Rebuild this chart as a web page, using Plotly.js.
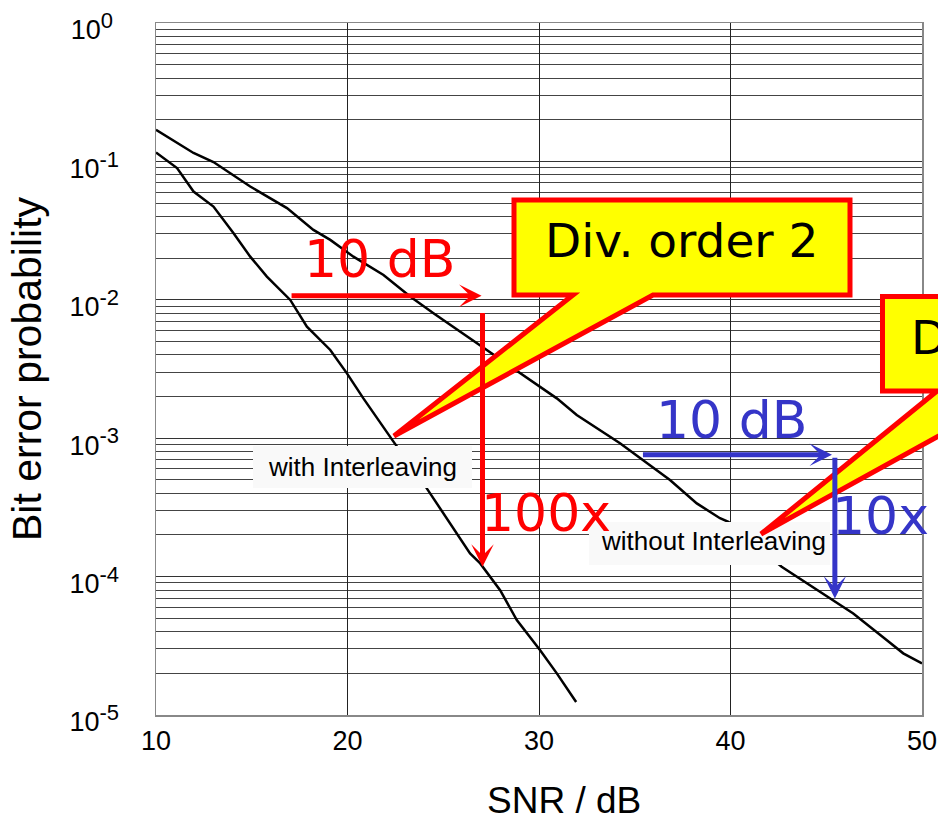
<!DOCTYPE html>
<html><head><meta charset="utf-8">
<script src="https://cdn.plot.ly/plotly-3.0.1.min.js"></script>
<style>html,body{margin:0;padding:0;background:#fff}</style>
</head><body><div id="chart" style="width:938px;height:817px"></div>
<script>
// ---- data ----
const snrWithout = [10, 11.96, 13.0, 14.92, 16.84, 18.22, 19.1, 20.31, 21.88, 23.27, 24.49, 26.4, 29.01, 30.93, 31.97, 34.23, 36.84, 38.24, 39.45, 39.89, 42.67, 44.84, 46.41, 48.15, 49.02, 50];
const berWithout = [0.169, 0.115, 0.0989, 0.0659, 0.046, 0.032, 0.0271, 0.0205, 0.0151, 0.01055, 0.008, 0.00527, 0.00294, 0.00194, 0.00147, 0.00092, 0.000499, 0.000338, 0.000264, 0.000249, 0.0001178, 7.56e-5, 5.42e-5, 3.48e-5, 2.79e-5, 2.36e-5];
const snrWith = [10, 11.1, 11.96, 13.0, 14.05, 14.92, 15.79, 17.01, 17.88, 19.1, 19.97, 20.83, 22.4, 24.14, 26.4, 26.93, 27.97, 28.84, 30.06, 30.93, 31.94];
const berWith = [0.116, 0.0895, 0.0606, 0.0472, 0.0303, 0.0205, 0.01472, 0.00998, 0.0064, 0.00434, 0.00294, 0.00194, 0.000944, 0.000434, 0.000147, 0.0001245, 7.98e-5, 4.85e-5, 2.94e-5, 2.0e-5, 1.24e-5];
const xTickVals = [10, 20, 30, 40, 50];
const yTickVals = [1e-5, 1e-4, 1e-3, 1e-2, 1e-1, 1];
const yExponents = ['-5', '-4', '-3', '-2', '-1', '0\u00a0'];
// gain markers: [snrFrom, snrTo, ber] and [snr, berFrom, berTo]
const redShift = [17.0, 27.0, 0.0107];
const redDrop = [27.05, 0.00822, 0.000118];
const blueShift = [35.35, 45.3, 0.000759];
const blueDrop = [45.45, 0.000741, 0.0000695];

const yTickText = yExponents.map(e => '10<sup><span style="font-size:22px">' + e + '</span></sup>');

const L = Math.log10;
// pixel -> paper helper for decorations (callouts, label boxes)
const PL = 156, PR = 922, PT = 23, PB = 715;
const px = x => (x - PL) / (PR - PL);
const py = y => (PB - y) / (PB - PT);
const pathOf = pts => pts.map((p, i) => (i ? 'L' : 'M') + px(p[0]).toFixed(5) + ',' + py(p[1]).toFixed(5)).join(' ') + ' Z';

const traces = [
  {x: snrWithout, y: berWithout, type: 'scatter', mode: 'lines', name: 'without Interleaving', line: {color: '#000', width: 2.5}},
  {x: snrWith, y: berWith, type: 'scatter', mode: 'lines', name: 'with Interleaving', line: {color: '#000', width: 2.5}}
];

const RED = '#ff0000', BLUE = '#3535c8', YEL = '#ffff00';
const bigFont = c => ({family: 'DejaVu Sans', size: 52, color: c});
const labFont = {family: 'Liberation Sans, Arial', size: 26, color: '#000'};

const shapes = [
  {type: 'rect', xref: 'paper', yref: 'paper', x0: px(253), x1: px(472), y0: py(488), y1: py(446), fillcolor: '#f9f9f9', line: {width: 0}, layer: 'above'},
  {type: 'rect', xref: 'paper', yref: 'paper', x0: px(589), x1: px(830), y0: py(565), y1: py(522), fillcolor: '#f9f9f9', line: {width: 0}, layer: 'above'},
  {type: 'path', xref: 'paper', yref: 'paper', layer: 'above', fillcolor: YEL, line: {color: RED, width: 5},
   path: pathOf([[514, 200], [850, 200], [850, 295], [653, 295], [394, 436], [573, 295], [514, 295]])},
  {type: 'path', xref: 'paper', yref: 'paper', layer: 'above', fillcolor: YEL, line: {color: RED, width: 5},
   path: pathOf([[882.5, 296.5], [1250, 296.5], [1250, 391], [1020, 391], [761, 534], [937, 391], [882.5, 391]])}
];

const arrow = (x, y, ax, ay, c) => ({x: x, y: y, ax: ax, ay: ay, xref: 'x', yref: 'y', axref: 'x', ayref: 'y', text: '', showarrow: true, arrowhead: 3, arrowsize: 0.75, arrowwidth: 5, arrowcolor: c, standoff: 0, startstandoff: 0});

const annotations = [
  {x: 20.8, y: L(0.00062), xref: 'x', yref: 'y', text: 'with Interleaving', showarrow: false, font: labFont},
  {x: 39.1, y: L(0.000182), xref: 'x', yref: 'y', text: 'without Interleaving', showarrow: false, font: labFont},
  arrow(redShift[1], L(redShift[2]), redShift[0], L(redShift[2]), RED),
  arrow(redDrop[0], L(redDrop[2]), redDrop[0], L(redDrop[1]), RED),
  arrow(blueShift[1], L(blueShift[2]), blueShift[0], L(blueShift[2]), BLUE),
  arrow(blueDrop[0], L(blueDrop[2]), blueDrop[0], L(blueDrop[1]), BLUE),
  {x: 21.67, y: -1.705, xref: 'x', yref: 'y', text: '10 dB', showarrow: false, font: bigFont(RED)},
  {x: 30.37, y: -3.537, xref: 'x', yref: 'y', text: '100x', showarrow: false, font: bigFont(RED)},
  {x: 40.05, y: -2.868, xref: 'x', yref: 'y', text: '10 dB', showarrow: false, font: bigFont(BLUE)},
  {x: 47.85, y: -3.563, xref: 'x', yref: 'y', text: '10x', showarrow: false, font: bigFont(BLUE)},
  {x: px(681), y: py(240), xref: 'paper', yref: 'paper', xanchor: 'center', yanchor: 'middle', text: 'Div. order 2', showarrow: false, font: {family: 'DejaVu Sans', size: 47, color: '#000'}},
  {x: px(909), y: py(337), xref: 'paper', yref: 'paper', xanchor: 'left', yanchor: 'middle', text: 'Div. order 1', showarrow: false, font: {family: 'DejaVu Sans', size: 47, color: '#000'}},
  {x: px(564), y: py(800), xref: 'paper', yref: 'paper', xanchor: 'center', yanchor: 'middle', text: 'SNR / dB', showarrow: false, font: {family: 'Liberation Sans, Arial', size: 37, color: '#000'}}
];

const layout = {
  width: 938, height: 817,
  margin: {l: PL, r: 938 - PR, t: PT, b: 817 - PB, pad: 0},
  paper_bgcolor: '#fff', plot_bgcolor: '#fff',
  showlegend: false,
  font: {family: 'Liberation Sans, Arial', color: '#000'},
  xaxis: {
    range: [10, 50], tickvals: xTickVals, ticks: '', showgrid: true, gridcolor: '#222', gridwidth: 1,
    showline: true, mirror: true, linecolor: '#888', linewidth: 1.5, zeroline: false,
    tickfont: {family: 'Liberation Sans, Arial', size: 27, color: '#000'}, ticklabelstandoff: 1
  },
  yaxis: {
    type: 'log', range: [-5, 0], tickmode: 'array', tickvals: yTickVals, ticktext: yTickText, ticks: '',
    showgrid: true, gridcolor: '#333', gridwidth: 1,
    minor: {dtick: 'D1', showgrid: true, gridcolor: '#444', gridwidth: 1, ticks: ''},
    showline: true, mirror: true, linecolor: '#888', linewidth: 1.5, zeroline: false,
    tickfont: {family: 'Liberation Sans, Arial', size: 27, color: '#000'}, ticklabelstandoff: 30, ticklabelshift: 7,
    title: {text: 'Bit error probability', font: {family: 'Liberation Sans, Arial', size: 41, color: '#000'}, standoff: 15}
  },
  shapes: shapes,
  annotations: annotations
};

Plotly.newPlot('chart', traces, layout, {displayModeBar: false, staticPlot: true});
</script></body></html>
